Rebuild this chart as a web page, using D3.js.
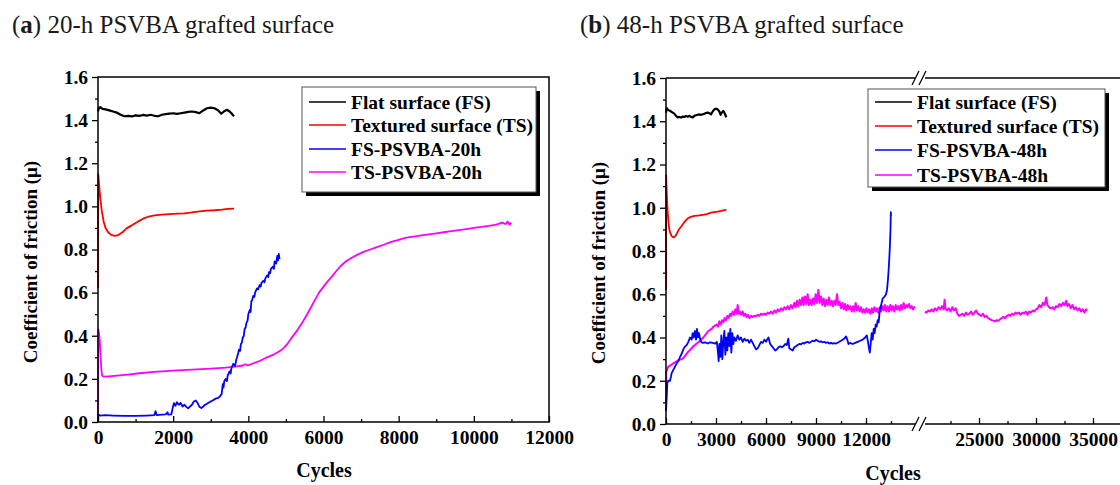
<!DOCTYPE html>
<html lang="en">
<head>
<meta charset="utf-8">
<title>Coefficient of friction vs cycles</title>
<script src="https://d3js.org/d3.v7.min.js"></script>
<style>
    body { margin: 0; background: #fff; }
    svg text { font-family: "Liberation Serif", "Times New Roman", serif; }
</style>
</head>
<body>
<div id="chart"></div>
<script>
// ---- data: [cycles, coefficient of friction] ----
const flatSurface = [[0,1.44],[20,1.455],[60,1.46],[120,1.452],[200,1.45],[300,1.445],[400,1.44],[500,1.435],[600,1.425],[700,1.418],[800,1.42],[900,1.417],[1000,1.422],[1100,1.42],[1200,1.424],[1300,1.421],[1400,1.425],[1500,1.42],[1600,1.418],[1700,1.425],[1800,1.428],[1900,1.43],[2000,1.432],[2100,1.429],[2200,1.432],[2300,1.435],[2400,1.438],[2500,1.44],[2600,1.437],[2700,1.432],[2800,1.445],[2900,1.455],[3000,1.458],[3100,1.455],[3200,1.445],[3280,1.43],[3350,1.44],[3430,1.448],[3500,1.44],[3560,1.43],[3620,1.418]];

const texturedSurface = [[0,0.62],[8,1.15],[30,1.10],[60,1.04],[100,0.98],[150,0.93],[200,0.90],[270,0.88],[350,0.868],[450,0.863],[550,0.868],[650,0.88],[760,0.898],[900,0.912],[1050,0.928],[1200,0.943],[1350,0.953],[1500,0.958],[1700,0.962],[1900,0.964],[2100,0.966],[2300,0.968],[2500,0.972],[2700,0.977],[2900,0.98],[3100,0.982],[3300,0.985],[3450,0.988],[3620,0.99]];

const fs20 = [[0,0.0],[10,0.035],[60,0.03],[200,0.032],[400,0.03],[700,0.028],[1000,0.028],[1300,0.03],[1500,0.032],[1530,0.05],[1560,0.032],[1700,0.034],[1800,0.035],[1850,0.045],[1870,0.034],[1950,0.035],[1980,0.06],[2020,0.087],[2060,0.075],[2100,0.092],[2150,0.08],[2200,0.088],[2250,0.072],[2300,0.08],[2350,0.07],[2400,0.063],[2450,0.072],[2500,0.08],[2550,0.095],[2600,0.1],[2650,0.088],[2700,0.07],[2750,0.065],[2800,0.072],[2850,0.08],[2900,0.085],[2950,0.09],[3000,0.095],[3050,0.1],[3100,0.105],[3150,0.11],[3200,0.112],[3250,0.12],[3290,0.13],[3320,0.175],[3340,0.16],[3360,0.19],[3400,0.2],[3430,0.19],[3450,0.215],[3500,0.235],[3530,0.225],[3550,0.25],[3600,0.27],[3650,0.26],[3680,0.29],[3700,0.3],[3730,0.32],[3750,0.335],[3780,0.33],[3800,0.36],[3830,0.37],[3850,0.39],[3880,0.4],[3900,0.43],[3930,0.44],[3950,0.46],[3980,0.47],[4000,0.5],[4040,0.52],[4060,0.51],[4080,0.56],[4100,0.565],[4130,0.585],[4160,0.58],[4180,0.6],[4230,0.62],[4260,0.615],[4300,0.635],[4330,0.628],[4350,0.645],[4400,0.655],[4430,0.648],[4450,0.665],[4500,0.68],[4530,0.672],[4550,0.695],[4580,0.69],[4600,0.71],[4650,0.72],[4680,0.71],[4700,0.745],[4740,0.735],[4770,0.77],[4790,0.75],[4810,0.78],[4830,0.755]];

const ts20 = [[0,0.02],[8,0.43],[30,0.41],[50,0.37],[70,0.3],[90,0.24],[110,0.215],[150,0.21],[300,0.212],[500,0.215],[800,0.22],[1100,0.226],[1500,0.232],[2000,0.238],[2500,0.243],[3000,0.248],[3400,0.252],[3700,0.258],[3850,0.262],[3920,0.268],[3980,0.262],[4100,0.27],[4300,0.283],[4500,0.3],[4700,0.315],[4850,0.33],[4950,0.345],[5050,0.365],[5150,0.39],[5300,0.425],[5450,0.465],[5550,0.495],[5660,0.53],[5770,0.565],[5880,0.6],[6000,0.628],[6100,0.65],[6220,0.674],[6330,0.698],[6440,0.72],[6530,0.735],[6620,0.748],[6750,0.762],[6880,0.774],[7050,0.788],[7240,0.8],[7400,0.81],[7600,0.822],[7800,0.835],[8000,0.845],[8200,0.855],[8400,0.86],[8600,0.865],[8800,0.87],[9000,0.875],[9200,0.88],[9400,0.885],[9600,0.89],[9800,0.895],[10000,0.9],[10200,0.905],[10400,0.91],[10600,0.915],[10750,0.925],[10850,0.918],[10900,0.93],[10950,0.915],[11000,0.925]];

const fs48 = [[0,0.06],[40,0.12],[80,0.19],[140,0.2],[240,0.2],[300,0.22],[340,0.235],[440,0.25],[540,0.265],[640,0.28],[740,0.29],[840,0.31],[940,0.325],[1040,0.345],[1140,0.358],[1240,0.365],[1340,0.38],[1440,0.4],[1540,0.39],[1600,0.42],[1660,0.40],[1740,0.43],[1800,0.39],[1860,0.44],[1920,0.40],[1980,0.42],[2040,0.395],[2100,0.38],[2200,0.375],[2350,0.378],[2500,0.372],[2650,0.378],[2800,0.375],[2950,0.372],[3050,0.38],[3120,0.33],[3160,0.29],[3200,0.37],[3260,0.31],[3320,0.41],[3380,0.30],[3440,0.38],[3500,0.43],[3560,0.32],[3620,0.40],[3680,0.34],[3740,0.42],[3800,0.36],[3860,0.44],[3920,0.33],[3980,0.42],[4040,0.37],[4100,0.40],[4200,0.385],[4300,0.41],[4400,0.39],[4500,0.40],[4600,0.38],[4700,0.395],[4800,0.385],[4900,0.39],[5000,0.375],[5100,0.39],[5200,0.375],[5300,0.36],[5400,0.345],[5500,0.35],[5600,0.365],[5700,0.38],[5800,0.375],[5900,0.39],[6000,0.38],[6100,0.395],[6150,0.4],[6250,0.37],[6350,0.36],[6450,0.35],[6550,0.34],[6650,0.345],[6750,0.355],[6850,0.36],[6950,0.355],[7050,0.36],[7150,0.37],[7250,0.365],[7340,0.395],[7400,0.35],[7500,0.345],[7600,0.34],[7700,0.355],[7800,0.36],[7900,0.365],[8000,0.37],[8100,0.368],[8200,0.375],[8300,0.372],[8400,0.378],[8500,0.38],[8600,0.375],[8700,0.38],[8800,0.385],[8900,0.382],[9000,0.39],[9100,0.385],[9200,0.38],[9300,0.382],[9400,0.378],[9500,0.38],[9600,0.375],[9700,0.378],[9800,0.372],[9900,0.375],[10000,0.372],[10100,0.374],[10200,0.372],[10300,0.376],[10400,0.38],[10500,0.385],[10600,0.39],[10700,0.395],[10800,0.405],[10880,0.39],[10950,0.37],[11050,0.375],[11200,0.37],[11350,0.375],[11500,0.38],[11650,0.385],[11800,0.39],[11950,0.4],[12050,0.41],[12120,0.38],[12180,0.35],[12230,0.33],[12280,0.37],[12340,0.42],[12400,0.39],[12460,0.44],[12520,0.42],[12580,0.46],[12640,0.45],[12700,0.48],[12760,0.47],[12820,0.52],[12880,0.54],[12940,0.56],[13000,0.58],[13060,0.585],[13120,0.59],[13200,0.6],[13260,0.62],[13320,0.67],[13380,0.74],[13420,0.8],[13450,0.86],[13470,0.9],[13490,0.98],[13500,0.96]];

const ts48 = [[0,0.1],[15,0.24],[60,0.25],[140,0.265],[240,0.27],[340,0.275],[440,0.28],[540,0.285],[640,0.29],[740,0.295],[840,0.298],[940,0.3],[1040,0.305],[1140,0.315],[1240,0.325],[1340,0.335],[1440,0.342],[1540,0.35],[1640,0.36],[1740,0.365],[1840,0.372],[1940,0.378],[2040,0.385],[2140,0.392],[2240,0.4],[2340,0.41],[2440,0.42],[2540,0.43],[2640,0.435],[2740,0.44],[2840,0.45],[2940,0.455],[3040,0.46],[3120,0.45],[3200,0.475],[3280,0.46],[3360,0.48],[3440,0.47],[3520,0.49],[3600,0.48],[3680,0.5],[3760,0.49],[3840,0.51],[3920,0.5],[4000,0.52],[4080,0.505],[4160,0.53],[4240,0.51],[4300,0.55],[4360,0.51],[4440,0.52],[4520,0.505],[4600,0.52],[4680,0.5],[4760,0.51],[4840,0.495],[4920,0.505],[5000,0.49],[5100,0.5],[5200,0.495],[5300,0.5],[5400,0.498],[5500,0.505],[5600,0.5],[5700,0.51],[5800,0.505],[5900,0.51],[6000,0.505],[6100,0.515],[6200,0.51],[6300,0.52],[6400,0.51],[6500,0.525],[6600,0.515],[6700,0.53],[6800,0.52],[6900,0.535],[7000,0.525],[7100,0.54],[7200,0.53],[7300,0.545],[7400,0.53],[7500,0.55],[7600,0.535],[7700,0.56],[7780,0.54],[7860,0.57],[7940,0.545],[8020,0.575],[8100,0.55],[8180,0.585],[8260,0.55],[8340,0.59],[8420,0.555],[8500,0.6],[8580,0.55],[8660,0.575],[8740,0.55],[8820,0.58],[8900,0.555],[8980,0.6],[9060,0.56],[9140,0.62],[9220,0.56],[9300,0.59],[9380,0.55],[9460,0.58],[9540,0.545],[9620,0.575],[9700,0.55],[9780,0.585],[9860,0.55],[9940,0.57],[10020,0.545],[10100,0.57],[10180,0.55],[10260,0.6],[10340,0.55],[10420,0.565],[10500,0.535],[10580,0.56],[10660,0.53],[10740,0.555],[10820,0.525],[10900,0.55],[10980,0.53],[11060,0.545],[11140,0.52],[11220,0.545],[11300,0.52],[11380,0.56],[11460,0.525],[11540,0.545],[11620,0.52],[11700,0.54],[11780,0.515],[11860,0.53],[11940,0.515],[12020,0.535],[12100,0.515],[12180,0.53],[12260,0.51],[12340,0.535],[12420,0.515],[12500,0.54],[12580,0.52],[12660,0.535],[12740,0.515],[12820,0.54],[12900,0.52],[12980,0.545],[13060,0.525],[13140,0.55],[13220,0.52],[13300,0.545],[13380,0.52],[13460,0.55],[13540,0.525],[13620,0.545],[13700,0.52],[13780,0.55],[13860,0.53],[13940,0.545],[14020,0.525],[14100,0.55],[14180,0.53],[14260,0.56],[14340,0.535],[14420,0.55],[14500,0.54],[14580,0.555],[14660,0.535],[14740,0.545],[14820,0.53],[14900,0.54],[14940,0.535]];

// TS-PSVBA-48h after the axis break
const ts48Late = [[20260,0.52],[20400,0.515],[20550,0.525],[20700,0.52],[20850,0.53],[21000,0.52],[21150,0.535],[21300,0.525],[21450,0.54],[21600,0.53],[21750,0.545],[21900,0.53],[21980,0.575],[22060,0.535],[22200,0.525],[22350,0.535],[22500,0.52],[22650,0.54],[22800,0.525],[22950,0.535],[23100,0.51],[23250,0.5],[23400,0.505],[23550,0.51],[23700,0.5],[23850,0.515],[24000,0.505],[24150,0.51],[24300,0.52],[24450,0.505],[24600,0.515],[24750,0.525],[24900,0.51],[25050,0.505],[25200,0.5],[25350,0.51],[25500,0.495],[25650,0.5],[25800,0.49],[25950,0.485],[26100,0.48],[26250,0.478],[26400,0.475],[26550,0.48],[26700,0.477],[26850,0.485],[27000,0.49],[27150,0.495],[27300,0.49],[27450,0.5],[27600,0.505],[27750,0.5],[27900,0.51],[28050,0.505],[28200,0.515],[28350,0.51],[28500,0.515],[28650,0.505],[28800,0.515],[28950,0.51],[29100,0.52],[29250,0.505],[29400,0.52],[29550,0.515],[29700,0.525],[29850,0.52],[30000,0.53],[30150,0.535],[30300,0.55],[30450,0.54],[30600,0.56],[30750,0.55],[30900,0.585],[31000,0.55],[31150,0.54],[31300,0.535],[31450,0.54],[31600,0.53],[31750,0.545],[31900,0.54],[32050,0.555],[32200,0.545],[32350,0.56],[32500,0.55],[32650,0.57],[32750,0.545],[32900,0.555],[33050,0.535],[33200,0.55],[33350,0.53],[33500,0.54],[33650,0.525],[33800,0.535],[33950,0.52],[34100,0.53],[34250,0.515],[34400,0.53],[34500,0.525]];

const yMajor = [0, 0.2, 0.4, 0.6, 0.8, 1.0, 1.2, 1.4, 1.6];
const yMinor = [0.1, 0.3, 0.5, 0.7, 0.9, 1.1, 1.3, 1.5];
const xMajorA = [0, 2000, 4000, 6000, 8000, 10000, 12000];
const xMinorA = [1000, 3000, 5000, 7000, 9000, 11000];
const xMajorB1 = [0, 3000, 6000, 9000, 12000];
const xMinorB1 = [1500, 4500, 7500, 10500, 13500];
const xMajorB2 = [25000, 30000, 35000];
const xMinorB2 = [22500, 27500, 32500, 37500];

const legendA = ["Flat surface (FS)", "Textured surface (TS)", "FS-PSVBA-20h", "TS-PSVBA-20h"];
const legendB = ["Flat surface (FS)", "Textured surface (TS)", "FS-PSVBA-48h", "TS-PSVBA-48h"];
const colors = ["#000000", "#ff0000", "#0000ff", "#ff00ff"];

// ---- layout ----
const W = 1120, H = 485;
const svg = d3.select("#chart").append("svg").attr("width", W).attr("height", H);

const xA = d3.scaleLinear().domain([0, 12000]).range([98, 549]);
const yA = d3.scaleLinear().domain([0, 1.6]).range([422, 77]);
const xB1 = d3.scaleLinear().domain([0, 15000]).range([666, 916]);
const xB2 = d3.scaleLinear().domain([20350, 40000]).range([926, 1150]);
const yB = d3.scaleLinear().domain([0, 1.6]).range([424, 78]);

function styleAxis(g) {
    g.select(".domain").remove();
    g.selectAll("line").attr("stroke", "#000").attr("stroke-width", 1.3);
    g.selectAll("text")
        .attr("fill", "#000")
        .style("font-size", "19.5px")
        .style("font-weight", "bold");
}

function yAxis(y, x0) {
    svg.append("g").attr("transform", `translate(${x0},0)`)
        .call(d3.axisLeft(y).tickValues(yMajor).tickSize(6).tickPadding(4).tickFormat(d3.format(".1f")))
        .call(styleAxis);
    svg.append("g").attr("transform", `translate(${x0},0)`)
        .call(d3.axisLeft(y).tickValues(yMinor).tickSize(3).tickFormat(""))
        .call(styleAxis);
}

function xAxis(x, y0, major, minor) {
    svg.append("g").attr("transform", `translate(0,${y0})`)
        .call(d3.axisBottom(x).tickValues(major).tickSize(-6).tickPadding(8).tickFormat(d3.format("d")))
        .call(styleAxis);
    svg.append("g").attr("transform", `translate(0,${y0})`)
        .call(d3.axisBottom(x).tickValues(minor).tickSize(-3).tickFormat(""))
        .call(styleAxis);
}

function drawLine(data, x, y, color, width) {
    svg.append("path")
        .datum(data)
        .attr("fill", "none")
        .attr("stroke", color)
        .attr("stroke-width", width)
        .attr("stroke-linejoin", "round")
        .attr("d", d3.line().x(d => x(d[0])).y(d => y(d[1])));
}

function legend(x0, y0, w, h, labels, rowY) {
    const g = svg.append("g").attr("transform", `translate(${x0},${y0})`);
    g.append("rect").attr("x", 4).attr("y", 4).attr("width", w).attr("height", h).attr("fill", "#000");
    g.append("rect").attr("width", w).attr("height", h).attr("fill", "#fff")
        .attr("stroke", "#555").attr("stroke-width", 1);
    labels.forEach((t, i) => {
        g.append("line").attr("x1", 7).attr("x2", 44).attr("y1", rowY[i]).attr("y2", rowY[i])
            .attr("stroke", colors[i]).attr("stroke-width", 1.5);
        g.append("text").attr("x", 49).attr("y", rowY[i] + 6.5)
            .style("font-size", "19.5px").style("font-weight", "bold").text(t);
    });
}

function title(x, letter, rest) {
    const t = svg.append("text").attr("x", x).attr("y", 33)
        .style("font-size", "25px").attr("fill", "#1a1a1a");
    t.append("tspan").text("(");
    t.append("tspan").style("font-weight", "bold").text(letter);
    t.append("tspan").text(") " + rest);
}

// ---- panel (a) ----
title(12, "a", "20-h PSVBA grafted surface");
drawLine(ts20, xA, yA, colors[3], 1.8);
drawLine(fs20, xA, yA, colors[2], 1.8);
drawLine(texturedSurface, xA, yA, colors[1], 1.8);
drawLine(flatSurface, xA, yA, colors[0], 2.2);
svg.append("rect").attr("x", 98).attr("y", 77).attr("width", 451).attr("height", 345)
    .attr("fill", "none").attr("stroke", "#000").attr("stroke-width", 1.5);
yAxis(yA, 98);
xAxis(xA, 422, xMajorA, xMinorA);
legend(302, 87, 234, 105, legendA, [15, 38, 62, 85]);

svg.append("text").attr("transform", "translate(37,262) rotate(-90)")
    .attr("text-anchor", "middle").style("font-size", "19px").style("font-weight", "bold")
    .text("Coefficient of friction (\u03bc)");
svg.append("text").attr("x", 324).attr("y", 477).attr("text-anchor", "middle")
    .style("font-size", "20px").style("font-weight", "bold").text("Cycles");

// ---- panel (b) ----
title(580, "b", "48-h PSVBA grafted surface");
drawLine(ts48, xB1, yB, colors[3], 2);
drawLine(ts48Late, xB2, yB, colors[3], 2);
drawLine(fs48, xB1, yB, colors[2], 1.8);
drawLine(texturedSurface, xB1, yB, colors[1], 1.8);
drawLine(flatSurface, xB1, yB, colors[0], 2.2);

const axisLines = [
    [666, 78, 666, 424],
    [666, 424, 915, 424], [925, 424, 1120, 424],
    [666, 78, 915, 78], [925, 78, 1120, 78]
];
axisLines.forEach(l => svg.append("line")
    .attr("x1", l[0]).attr("y1", l[1]).attr("x2", l[2]).attr("y2", l[3])
    .attr("stroke", "#000").attr("stroke-width", 1.5));
[78, 424].forEach(yy => {
    [912, 919].forEach(xx => svg.append("line")
        .attr("x1", xx).attr("y1", yy + 7).attr("x2", xx + 7).attr("y2", yy - 7)
        .attr("stroke", "#000").attr("stroke-width", 1.3));
});
yAxis(yB, 666);
xAxis(xB1, 424, xMajorB1, xMinorB1);
xAxis(xB2, 424, xMajorB2, xMinorB2);
legend(868, 89, 237, 98, legendB, [13, 37, 61, 86]);

svg.append("text").attr("transform", "translate(605,263) rotate(-90)")
    .attr("text-anchor", "middle").style("font-size", "19px").style("font-weight", "bold")
    .text("Coefficient of friction (\u03bc)");
svg.append("text").attr("x", 893).attr("y", 480).attr("text-anchor", "middle")
    .style("font-size", "20px").style("font-weight", "bold").text("Cycles");
</script>
</body>
</html>
